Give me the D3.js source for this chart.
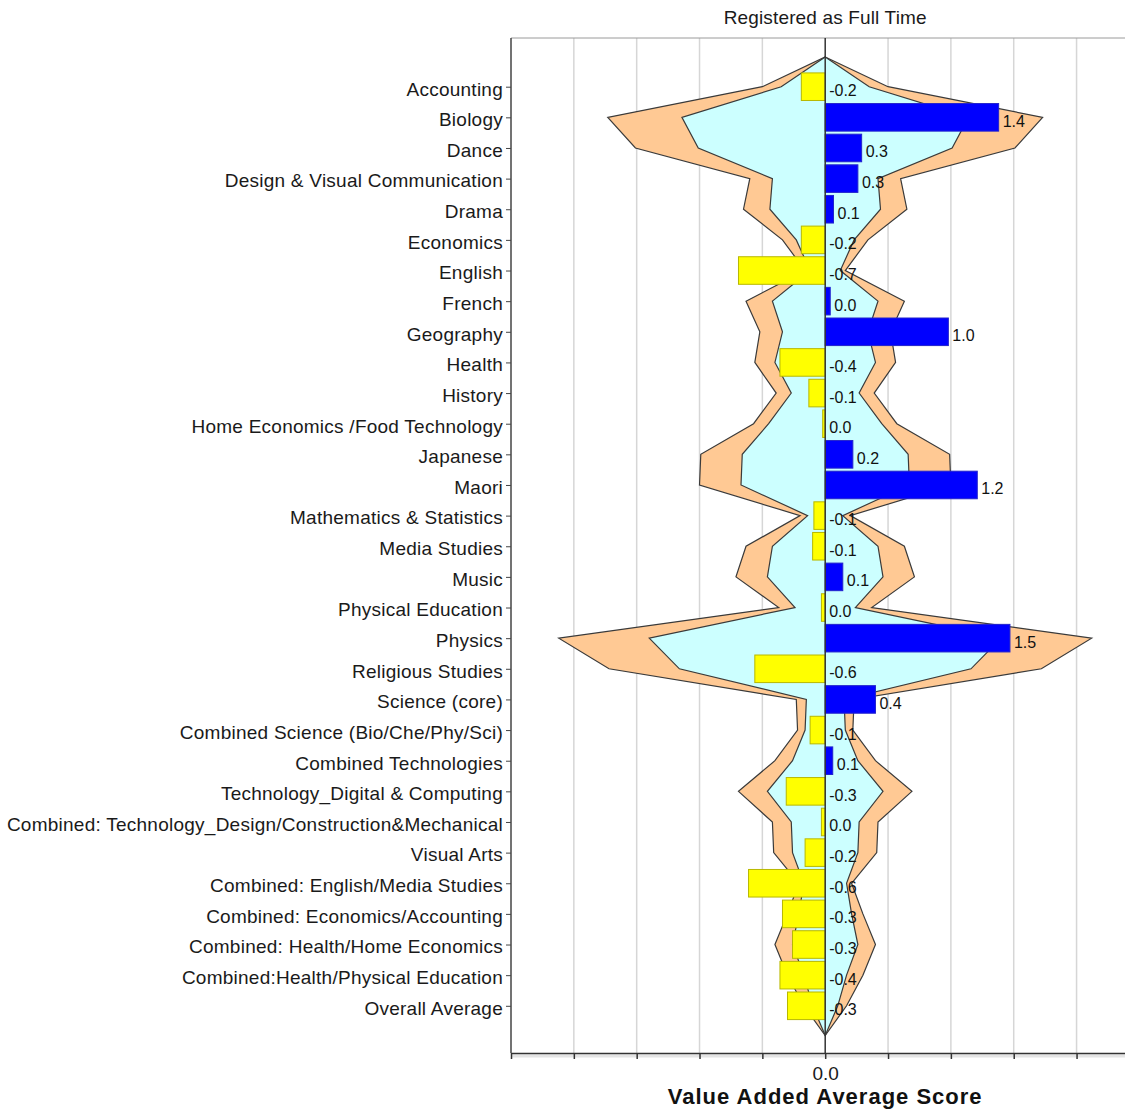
<!DOCTYPE html>
<html>
<head>
<meta charset="utf-8">
<script src="https://cdn.jsdelivr.net/npm/d3@7"></script>
<style>
  body { margin: 0; background: #fff; }
  svg { display: block; font-family: "Liberation Sans", Arial, sans-serif; }
</style>
</head>
<body>
<div id="chart"></div>
<script>
// subjects, top to bottom
const categories = [
  'Accounting', 'Biology', 'Dance', 'Design & Visual Communication', 'Drama',
  'Economics', 'English', 'French', 'Geography', 'Health', 'History',
  'Home Economics /Food Technology', 'Japanese', 'Maori', 'Mathematics & Statistics',
  'Media Studies', 'Music', 'Physical Education', 'Physics', 'Religious Studies',
  'Science (core)', 'Combined Science (Bio/Che/Phy/Sci)', 'Combined Technologies',
  'Technology_Digital & Computing', 'Combined: Technology_Design/Construction&Mechanical',
  'Visual Arts', 'Combined: English/Media Studies', 'Combined: Economics/Accounting',
  'Combined: Health/Home Economics', 'Combined:Health/Physical Education', 'Overall Average'
];

// value added average score per subject
const scores = [
  -0.19, 1.38, 0.29, 0.26, 0.066, -0.19, -0.69, 0.04, 0.98, -0.36, -0.13,
  -0.02, 0.22, 1.21, -0.09, -0.10, 0.14, -0.03, 1.47, -0.56,
  0.40, -0.12, 0.06, -0.31, -0.03, -0.16, -0.61, -0.34, -0.26, -0.36, -0.30
];

// half widths of the two bands (drawn symmetric round zero)
const outerBand = [
  0.50, 1.73, 1.51, 0.60, 0.65, 0.34, 0.16, 0.63, 0.52, 0.56, 0.39,
  0.57, 0.99, 1.00, 0.20, 0.63, 0.71, 0.37, 2.12, 1.72,
  0.23, 0.22, 0.40, 0.69, 0.42, 0.41, 0.21, 0.30, 0.40, 0.30, 0.17
];
const innerBand = [
  0.35, 1.14, 1.01, 0.42, 0.44, 0.23, 0.12, 0.42, 0.34, 0.40, 0.27,
  0.45, 0.66, 0.67, 0.14, 0.42, 0.46, 0.24, 1.40, 1.16,
  0.15, 0.16, 0.26, 0.46, 0.27, 0.26, 0.17, 0.21, 0.26, 0.17, 0.10
];

const xTicks = [-2.5, -2, -1.5, -1, -0.5, 0, 0.5, 1, 1.5, 2, 2.5];

const width  = 1125,
      height = 1110,
      plot   = {left: 511, right: 1139.4, top: 38, bottom: 1053};

const svg = d3.select('#chart')
  .append('svg')
  .attr('width', width)
  .attr('height', height);

const x = d3.scaleLinear()
  .domain([-2.5, 2.5])
  .range([plot.left, plot.right]);

const y = d3.scalePoint()
  .domain(categories)
  .range([86.7, 1005.8]);

const step = y.step(),
      barH = step * 0.9;

// gridlines
svg.append('g')
  .selectAll('line')
  .data(xTicks.filter(d => d !== 0 && d !== -2.5))
  .enter().append('line')
  .attr('x1', d => x(d)).attr('x2', d => x(d))
  .attr('y1', plot.top).attr('y2', plot.bottom)
  .attr('stroke', '#d6d6d6')
  .attr('stroke-width', 1.5);

// top border
svg.append('line')
  .attr('x1', plot.left).attr('x2', plot.right)
  .attr('y1', plot.top).attr('y2', plot.top)
  .attr('stroke', '#9a9a9a');

// bands
function bandPoints(half) {
  const n = categories.length;
  const topY = y(categories[0]) - step * 0.97,
        botY = y(categories[n - 1]) + step * 0.97;
  const right = categories.map((c, i) => [x(half[i]), y(c)]);
  const left = categories.map((c, i) => [x(-half[i]), y(c)]).reverse();
  return [[x(0), topY], ...right, [x(0), botY], ...left];
}

const line = d3.line();

svg.append('path')
  .attr('d', line(bandPoints(outerBand)) + 'Z')
  .attr('fill', '#ffc994')
  .attr('stroke', '#3a3a3a')
  .attr('stroke-width', 1.2)
  .attr('stroke-linejoin', 'miter');

svg.append('path')
  .attr('d', line(bandPoints(innerBand)) + 'Z')
  .attr('fill', '#ccffff')
  .attr('stroke', '#3a3a3a')
  .attr('stroke-width', 1.2);

// bars
svg.append('g')
  .selectAll('rect')
  .data(scores)
  .enter().append('rect')
  .attr('x', d => Math.min(x(0), x(d)))
  .attr('width', d => Math.abs(x(d) - x(0)))
  .attr('y', (d, i) => y(categories[i]) - barH / 2)
  .attr('height', barH)
  .attr('fill', d => d < 0 ? '#ffff00' : '#0000ff')
  .attr('stroke', d => d < 0 ? '#b8b800' : '#2222cc')
  .attr('stroke-width', 1);

// zero line
svg.append('line')
  .attr('x1', x(0)).attr('x2', x(0))
  .attr('y1', plot.top).attr('y2', plot.bottom)
  .attr('stroke', '#333')
  .attr('stroke-width', 1.5);

// value labels (plain hyphen, no "-0.0")
const fmt = d => {
  const s = d.toFixed(1);
  return s === '-0.0' ? '0.0' : s;
};
svg.append('g')
  .selectAll('text')
  .data(scores)
  .enter().append('text')
  .attr('x', d => Math.max(x(0), x(d)) + 4)
  .attr('y', (d, i) => y(categories[i]) + 9.5)
  .attr('font-size', 16)
  .attr('fill', '#111')
  .text(fmt);

// left axis
const yAxis = svg.append('g')
  .attr('transform', `translate(${plot.left},0)`)
  .call(d3.axisLeft(y).tickSize(5).tickPadding(3));
yAxis.select('.domain').remove();
yAxis.selectAll('.tick line').attr('stroke', '#444');
yAxis.selectAll('.tick text')
  .attr('font-size', 19)
  .attr('font-family', '"Liberation Sans", Arial, sans-serif')
  .attr('letter-spacing', 0.25)
  .attr('dy', '0.44em')
  .attr('fill', '#1a1a1a');

svg.append('line')
  .attr('x1', plot.left).attr('x2', plot.left)
  .attr('y1', plot.top).attr('y2', plot.bottom)
  .attr('stroke', '#444')
  .attr('stroke-width', 1.5);

// bottom axis, with its faint shadow
svg.append('line')
  .attr('x1', plot.left).attr('x2', plot.right)
  .attr('y1', plot.bottom + 3).attr('y2', plot.bottom + 3)
  .attr('stroke', '#e4e4e4')
  .attr('stroke-width', 3);

const xAxis = svg.append('g')
  .attr('transform', `translate(0,${plot.bottom})`)
  .call(d3.axisBottom(x)
    .tickValues(xTicks)
    .tickSize(6)
    .tickSizeOuter(0)
    .tickPadding(8)
    .tickFormat(d => d === 0 ? '0.0' : ''));
xAxis.select('.domain').attr('stroke', '#333').attr('stroke-width', 1.5);
xAxis.selectAll('.tick line').attr('stroke', '#333').attr('stroke-width', 1.5);
xAxis.selectAll('.tick text')
  .attr('font-size', 19)
  .attr('font-family', '"Liberation Sans", Arial, sans-serif')
  .attr('fill', '#1a1a1a');

// titles
svg.append('text')
  .attr('x', x(0)).attr('y', 24)
  .attr('text-anchor', 'middle')
  .attr('font-size', 19)
  .attr('letter-spacing', 0.15)
  .attr('fill', '#1a1a1a')
  .text('Registered as Full Time');

svg.append('text')
  .attr('x', x(0)).attr('y', 1104)
  .attr('text-anchor', 'middle')
  .attr('font-size', 22)
  .attr('font-weight', 'bold')
  .attr('letter-spacing', 1)
  .attr('fill', '#111')
  .text('Value Added Average Score');
</script>
</body>
</html>
